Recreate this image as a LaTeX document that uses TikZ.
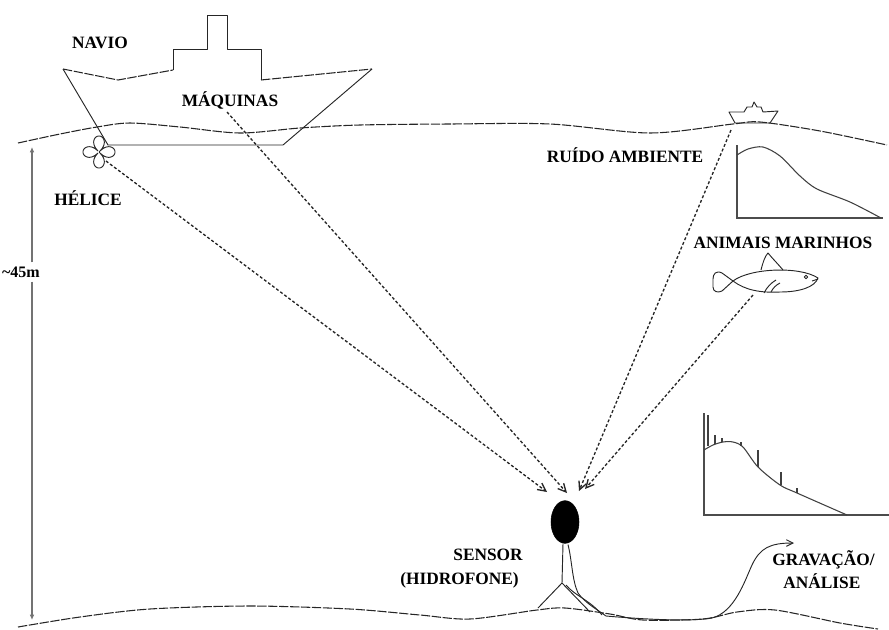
\documentclass[tikz,border=0pt]{standalone}
\usepackage{fontspec}
\setmainfont{Liberation Serif}
\usetikzlibrary{arrows.meta,shapes.geometric}
\begin{document}
\begin{tikzpicture}[x=0.75pt,y=-0.75pt,
  lbl/.style={font=\bfseries\fontsize{13}{15}\selectfont, inner sep=0pt},
  outline/.style={line width=0.7pt, draw=black!85, line join=round},
  water/.style={line width=0.8pt, draw=black!85, dash pattern=on 7pt off 1.2pt},
  soundray/.style={line width=1pt, draw=black!85, dash pattern=on 2.2pt off 1.6pt,
    -{Straight Barb[length=6pt,width=6pt]}},
  depth/.style={line width=1.3pt, draw=black!55, -{Latex[length=4pt,width=3.5pt]}},
  axes/.style={line width=0.9pt, draw=black!70},
  spectrum/.style={line width=0.8pt, draw=black!75}]
\useasboundingbox (0,0) rectangle (889,629);

% sea surface and sea floor
\draw[water] plot[smooth] coordinates {(18,143) (60,134) (97,127) (130,123) (180,127)
  (240,133) (300,128) (360,125) (450,124) (550,124) (650,133) (733,124) (760,122)
  (820,131) (887,145)};
\draw[water] plot[smooth] coordinates {(18,627) (80,617) (150,609) (250,606) (350,609)
  (420,615) (470,619) (537,610) (565,608) (610,614) (643,620) (703,619) (737,612)
  (775,610) (840,623) (878,629)};

% ship
\draw[outline] (63,69) -- (108,145) -- (283,145) -- (372,69);
\draw[water] (63,69) -- (118,80) -- (173,70);
\draw[water] (261,80) -- (372,69);
\draw[outline] (173,70) -- (173,49) -- (207,49) -- (207,15) -- (227,15) -- (227,49)
  -- (261,49) -- (261,80);

% propeller
\draw[outline] plot[domain=0:360, samples=240, smooth]
  ({99+16*pow(abs(cos(2*\x)),0.6)*cos(\x)}, {152+16*pow(abs(cos(2*\x)),0.6)*sin(\x)});
\coordinate (prop) at (106,161);

% small distant boat
\draw[outline] (729,112) -- (735,123) -- (770,123) -- (778,111) -- (763,112) -- (761,107)
  -- (757,107) -- (754,102) -- (752,107) -- (747,107) -- (744,112) -- cycle;
\coordinate (boat) at (731,130);

% fish
\draw[outline] (733,281) .. controls (750,268) and (800,266) .. (818,278)
  .. controls (815,287) and (800,292) .. (780,292)
  .. controls (760,293) and (745,290) .. (733,281);
\draw[outline] (733,281) -- (722,273) .. controls (716,270) and (713,274) .. (713,279)
  -- (713,287) .. controls (713,292) and (718,293) .. (722,291) -- cycle;
\draw[outline] (761,270) .. controls (763,262) and (765,256) .. (768,253)
  .. controls (772,258) and (778,264) .. (783,270);
\draw[outline] (764,293) .. controls (767,287) and (771,283) .. (776,280);
\draw[outline] (771,292) .. controls (773,288) and (776,285) .. (780,283);
\draw[outline] (806,277) circle (1.8);
\draw[outline] (812,281) -- (818,279);
\coordinate (fish) at (753,295);

% hydrophone on its stand
\node[ellipse, fill=black, draw=black, minimum width=21pt, minimum height=32pt,
  inner sep=0pt] (sensor) at (565,522) {};
\coordinate (foot) at (562,583);
\draw[outline] (sensor.south) ++(-2,0) coordinate (stem) -- (foot);
\draw[outline] (538,608) -- (foot) -- (590,612);
\coordinate (recorder) at (794,543);
\draw[outline, -{Straight Barb[length=5pt,width=5pt]}] (sensor.south) ++(3,1)
  .. controls (572,560) and (572,580) .. (578,593)
  .. controls (585,603) and (598,610) .. (606,616)
  .. controls (640,619) and (690,622) .. (712,618)
  .. controls (735,612) and (745,580) .. (752,565)
  .. controls (760,548) and (770,543) .. (recorder);
\draw[outline] (566,585) .. controls (575,596) and (590,600) .. (602,615);

% sound paths towards the sensor
\coordinate (tipA) at (547,492);
\coordinate (tipB) at (567,493);
\coordinate (tipC) at (579,491);
\coordinate (tipD) at (585,489);
\coordinate (engine) at (227,112);
\draw[soundray] (prop) -- (tipA);
\draw[soundray] (engine) -- (tipB);
\draw[soundray] (boat) -- (tipC);
\draw[soundray] (fish) -- (tipD);

% ambient noise spectrum
\draw[axes] (737,145) -- (737,218) -- (883,218);
\draw[spectrum] plot[smooth] coordinates {(737,155) (748,149) (763,147) (780,156)
  (800,176) (817,189) (850,202) (881,218)};

% received spectrum with tonal lines
\draw[axes] (704,413) -- (704,515) -- (889,515);
\draw[spectrum] plot[smooth] coordinates {(704,450) (713,445) (723,442) (733,442)
  (743,447) (758,467) (780,485) (797,493) (847,515)};
\draw[spectrum] (708,446) -- (708,415);
\draw[spectrum] (715,444) -- (715,435);
\draw[spectrum] (722,442) -- (722,438);
\draw[spectrum] (741,446) -- (741,442);
\draw[spectrum] (758,467) -- (758,450);
\draw[spectrum] (781,485) -- (781,472);
\draw[spectrum] (797,493) -- (797,488);

% water depth
\node[lbl, font=\bfseries\fontsize{12}{14}\selectfont] (depthlbl) at (21,272) {\textasciitilde 45m};
\coordinate (dtop) at (32,147);
\coordinate (dbot) at (32,620);
\draw[depth] (dtop |- depthlbl.north) ++(0,-4) -- (dtop);
\draw[depth] (dbot |- depthlbl.south) ++(0,4) -- (dbot);

% labels
\node[lbl] (navio) at (100,43) {NAVIO};
\node[lbl] (maq) at (230,100) {MÁQUINAS};
\node[lbl] (helice) at (88,198) {HÉLICE};
\node[lbl] (ruido) at (625,155) {RUÍDO AMBIENTE};
\node[lbl] (animais) at (783,243) {ANIMAIS MARINHOS};
\node[lbl, anchor=east] (sensorlbl) at (523,555) {SENSOR};
\node[lbl, anchor=east] (hidro) at (519,580) {(HIDROFONE)};
\node[lbl, anchor=west] (grav) at (772,560) {GRAVAÇÃO/};
\node[lbl, anchor=west] (anal) at (783,581) {ANÁLISE};
\end{tikzpicture}
\end{document}
